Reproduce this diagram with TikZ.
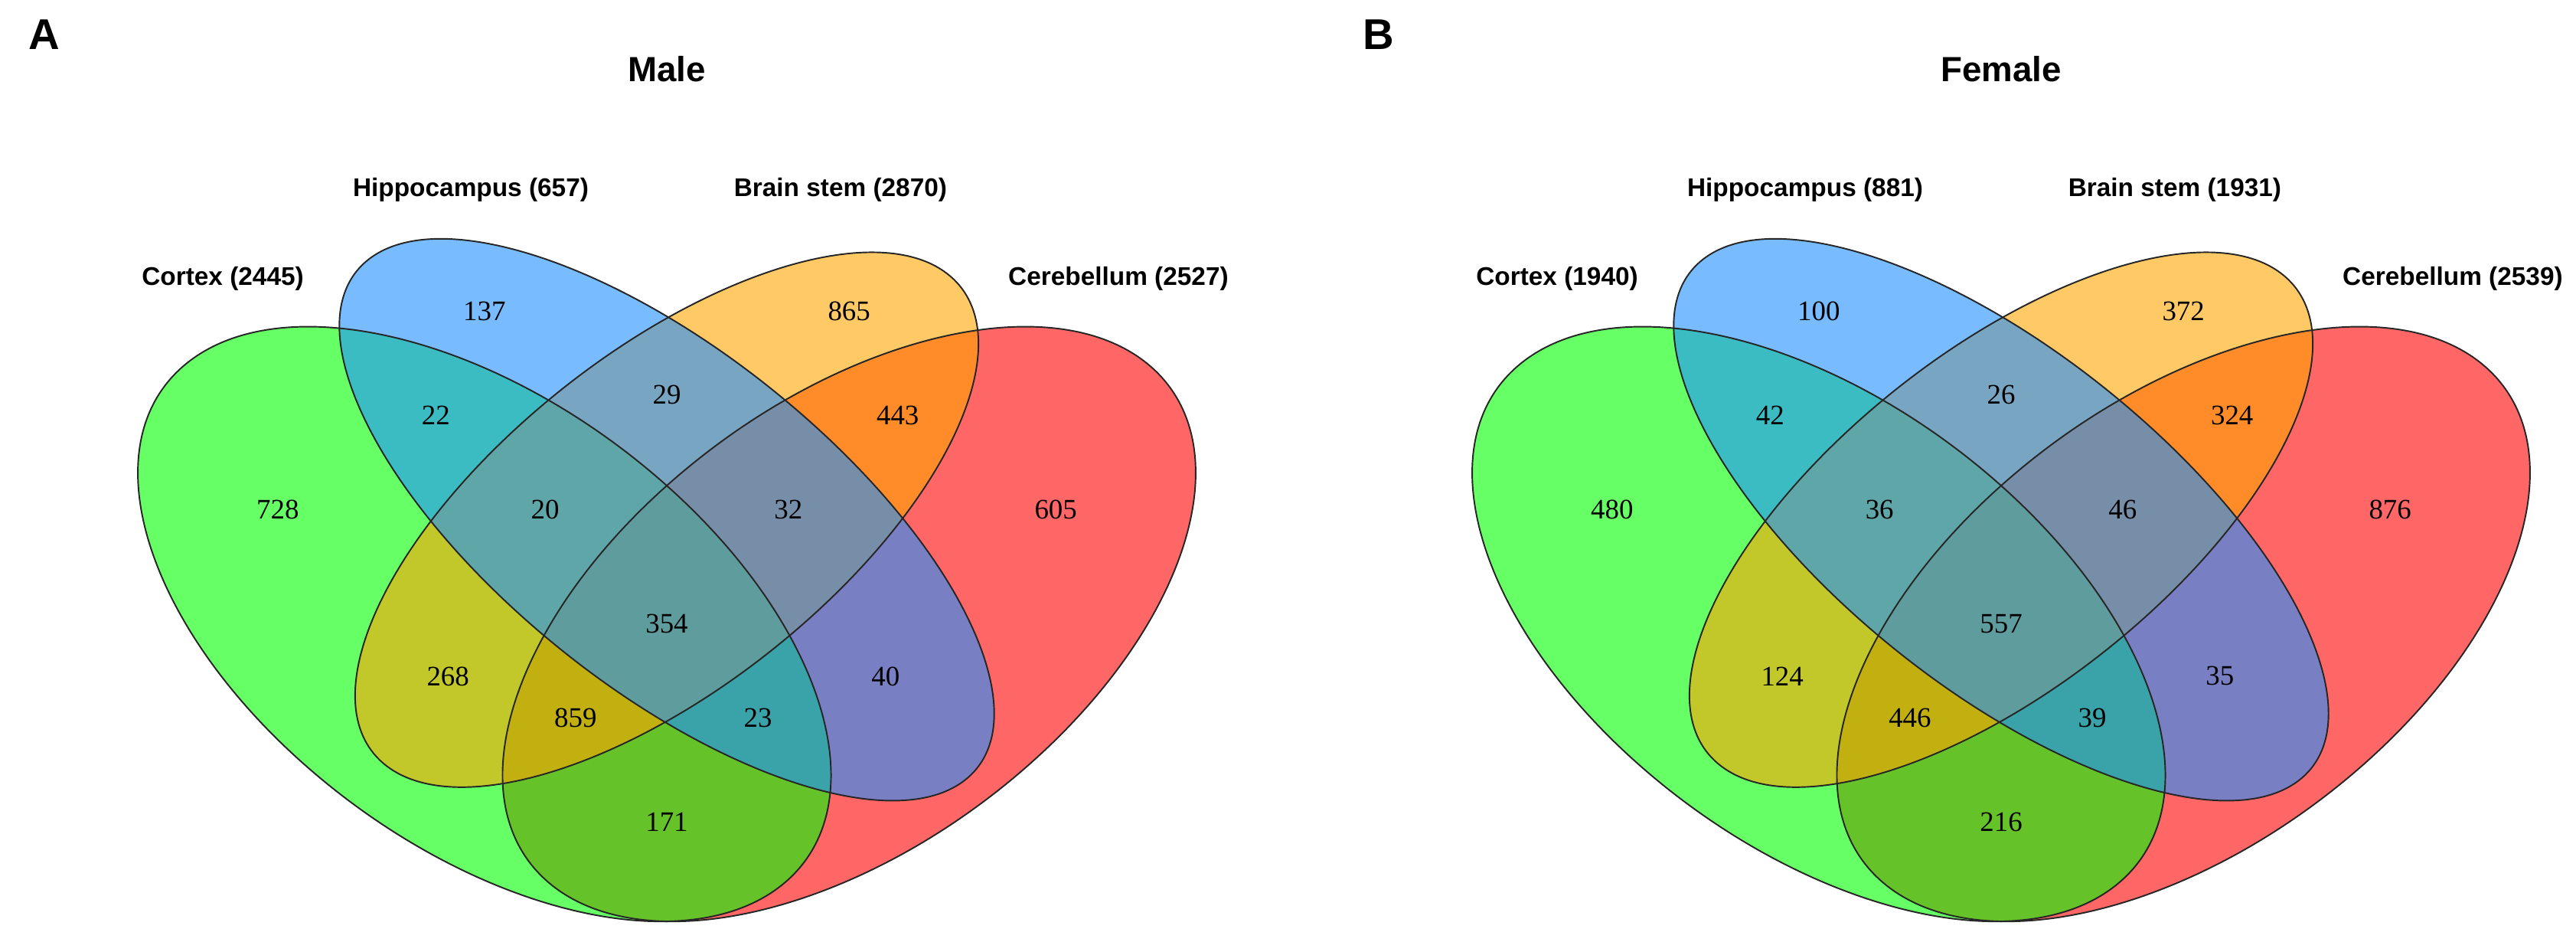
\documentclass[tikz,border=0pt]{standalone}
\usepackage{fontspec}
\setmainfont{Liberation Serif}
\setsansfont{Liberation Sans}

\definecolor{vorange}{RGB}{255,165,0}
\definecolor{vblue}{RGB}{30,144,255}

% the four sets, in the order they are filled
\newcommand{\vennsets}{%
  \foreach \c/\x/\y/\a/\b/\r in {red/0.65/0.47/0.35/0.20/45, green/0.35/0.47/0.35/0.20/135,
                                 vorange/0.50/0.57/0.33/0.15/45, vblue/0.50/0.57/0.35/0.15/135}
    \fill[setfill=\c, rotate around={\r:(\x,\y)}] (\x,\y) ellipse [x radius=\a, y radius=\b];
  \foreach \x/\y/\a/\b/\r in {0.65/0.47/0.35/0.20/45, 0.35/0.47/0.35/0.20/135,
                              0.50/0.57/0.33/0.15/45, 0.50/0.57/0.35/0.15/135}
    \draw[setline, rotate around={\r:(\x,\y)}] (\x,\y) ellipse [x radius=\a, y radius=\b];
}

\begin{document}
\begin{tikzpicture}[
    venn/.style={shift={#1}, xscale=15.88, yscale=13.62},
    setfill/.style={fill=#1, fill opacity=0.6},
    setline/.style={draw=black!85, line width=0.55pt},
    num/.style={font=\fontsize{10.5}{12}\selectfont},
    cat/.style={font=\sffamily\bfseries\fontsize{9.5}{11}\selectfont, anchor=base},
    ttl/.style={font=\sffamily\bfseries\fontsize{13}{15}\selectfont, anchor=base},
    panel/.style={font=\sffamily\bfseries\fontsize{16}{18}\selectfont, anchor=base west}]

  \useasboundingbox (0,0) rectangle (33.65,12.30);

  % --- Panel A ---
  \node[panel] (pA) at (0.25,11.65) {A};
  \begin{scope}[venn={(0.77,-2.25)}]
    \vennsets
    \node[ttl] (tA) at (0.5,0.990) {Male};
    \node[cat] (cA1) at (0.1348,0.795) {Cortex (2445)};
    \node[cat] (cA2) at (0.3388,0.880) {Hippocampus (657)};
    \node[cat] (cA3) at (0.6429,0.880) {Brain stem (2870)};
    \node[cat] (cA4) at (0.8715,0.795) {Cerebellum (2527)};

    \node[num] (a1)  at (0.350,0.77) {137};
    \node[num] (a2)  at (0.500,0.69) {29};
    \node[num] (a3)  at (0.650,0.77) {865};
    \node[num] (a4)  at (0.310,0.67) {22};
    \node[num] (a5)  at (0.400,0.58) {20};
    \node[num] (a6)  at (0.500,0.47) {354};
    \node[num] (a7)  at (0.600,0.58) {32};
    \node[num] (a8)  at (0.690,0.67) {443};
    \node[num] (a9)  at (0.180,0.58) {728};
    \node[num] (a10) at (0.320,0.42) {268};
    \node[num] (a11) at (0.425,0.38) {859};
    \node[num] (a12) at (0.500,0.28) {171};
    \node[num] (a13) at (0.575,0.38) {23};
    \node[num] (a14) at (0.680,0.42) {40};
    \node[num] (a15) at (0.820,0.58) {605};
  \end{scope}

  % --- Panel B ---
  \node[panel] (pB) at (17.68,11.65) {B};
  \begin{scope}[venn={(18.20,-2.25)}]
    \vennsets
    \node[ttl] (tB) at (0.5,0.990) {Female};
    \node[cat] (cB1) at (0.1348,0.795) {Cortex (1940)};
    \node[cat] (cB2) at (0.3388,0.880) {Hippocampus (881)};
    \node[cat] (cB3) at (0.6429,0.880) {Brain stem (1931)};
    \node[cat] (cB4) at (0.8715,0.795) {Cerebellum (2539)};

    \node[num] (b1)  at (0.350,0.77) {100};
    \node[num] (b2)  at (0.500,0.69) {26};
    \node[num] (b3)  at (0.650,0.77) {372};
    \node[num] (b4)  at (0.310,0.67) {42};
    \node[num] (b5)  at (0.400,0.58) {36};
    \node[num] (b6)  at (0.500,0.47) {557};
    \node[num] (b7)  at (0.600,0.58) {46};
    \node[num] (b8)  at (0.690,0.67) {324};
    \node[num] (b9)  at (0.180,0.58) {480};
    \node[num] (b10) at (0.320,0.42) {124};
    \node[num] (b11) at (0.425,0.38) {446};
    \node[num] (b12) at (0.500,0.28) {216};
    \node[num] (b13) at (0.575,0.38) {39};
    \node[num] (b14) at (0.680,0.42) {35};
    \node[num] (b15) at (0.820,0.58) {876};
  \end{scope}
\end{tikzpicture}
\end{document}
